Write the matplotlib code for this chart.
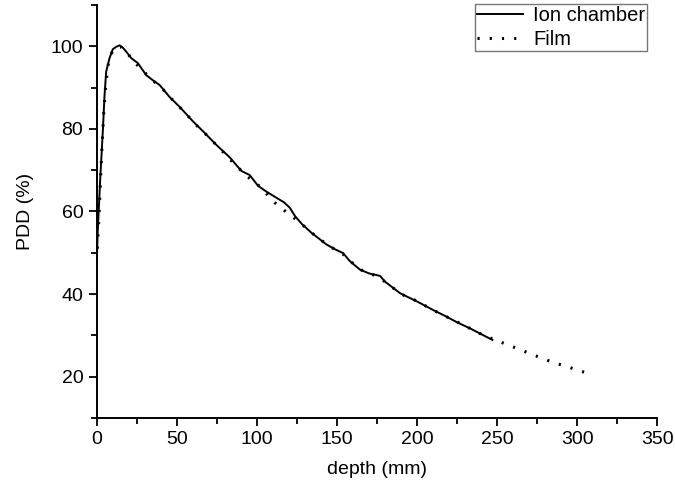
import matplotlib.pyplot as plt
from matplotlib.ticker import MultipleLocator

plt.rcParams['font.family'] = ['Liberation Sans', 'DejaVu Sans']

# ion chamber PDD curve
ion_depth = [0, 0.8, 2.3, 4.0, 5.0, 6.0, 8.1, 10.2, 12.5, 14.4, 16.5, 18.5, 21.7,
             25.8, 31.0, 35.0, 39.4, 45.6, 51.9, 60.2, 67.5, 74.8, 83.1, 90.4,
             95.6, 100.8, 106, 112.3, 117, 120.6, 123.8, 128, 134.2, 143.5, 149,
             153.9, 158, 164.4, 170, 176.9, 180, 189.4, 200, 210.2, 217, 224.8,
             234, 243.5, 247]
ion_pdd = [46.3, 55.6, 67.8, 80.0, 88.1, 93.8, 97.1, 99.3, 99.9, 100.2, 99.6,
           98.7, 97.1, 95.9, 93.0, 91.8, 90.6, 87.7, 85.3, 81.8, 79.0, 76.1,
           73.1, 69.8, 68.8, 66.2, 64.8, 63.3, 62.2, 60.9, 58.9, 57.0, 54.8,
           52.0, 50.8, 49.9, 48.0, 45.9, 45.0, 44.4, 43.0, 40.2, 38.2, 36.1,
           34.8, 33.2, 31.5, 29.6, 28.9]

# film PDD curve
film_depth = [0.5, 1.9, 3.2, 4.5, 5.8, 7.5, 10, 13, 15.5, 19, 23, 28, 34, 40,
              47, 55, 62, 70, 78, 86, 94, 102, 111.3, 118.9, 126, 134, 144,
              154, 164, 172, 180, 190, 200, 210, 220, 230, 240, 248, 256, 264,
              271, 279, 286, 294, 301, 309]
film_pdd = [51, 62, 74, 84, 91, 96, 99, 99.8, 99.8, 98.5, 96.3, 94.5, 92, 90.2,
            87.2, 84, 81, 78, 74.8, 71.5, 68.5, 66, 62.1, 59.7, 57.6, 54.9,
            51.9, 49.6, 46, 44.8, 43, 40, 38.3, 36.1, 34.2, 32.3, 30.3, 29.0,
            27.8, 26.6, 25.5, 24.3, 23.3, 22.4, 21.4, 20.7]

fig = plt.figure(figsize=(6.75, 4.9), dpi=100)
ax = fig.add_axes([0.143, 0.147, 0.831, 0.843])

ax.plot(ion_depth, ion_pdd, color='black', lw=1.4, label='Ion chamber')
ax.plot(film_depth, film_pdd, color='black', lw=2.2, linestyle=(0, (0.7, 3.3)),
        label='Film')

ax.set_xlim(0, 350)
ax.set_ylim(10, 110)
ax.xaxis.set_major_locator(MultipleLocator(50))
ax.xaxis.set_minor_locator(MultipleLocator(25))
ax.yaxis.set_minor_locator(MultipleLocator(10))
ax.set_yticks([20, 40, 60, 80, 100])

for s in ['top', 'right']:
    ax.spines[s].set_visible(False)
for s in ['left', 'bottom']:
    ax.spines[s].set_linewidth(1.4)

ax.tick_params(which='major', direction='out', length=6, width=1.3, labelsize=14)
ax.tick_params(which='minor', direction='out', length=4, width=1.3)

ax.set_xlabel('depth (mm)', fontsize=14, labelpad=9)
ax.set_ylabel('PDD (%)', fontsize=14, labelpad=12)

leg = ax.legend(loc='lower right', bbox_to_anchor=(0.959, 1 - 51 / 490),
                bbox_transform=fig.transFigure, fontsize=14.5, fancybox=False,
                edgecolor='#555555', handlelength=2.3, handletextpad=0.5,
                borderaxespad=0, borderpad=0.1, labelspacing=0.25)
leg.get_frame().set_linewidth(1.0)

fig.savefig('out.png', dpi=100)
